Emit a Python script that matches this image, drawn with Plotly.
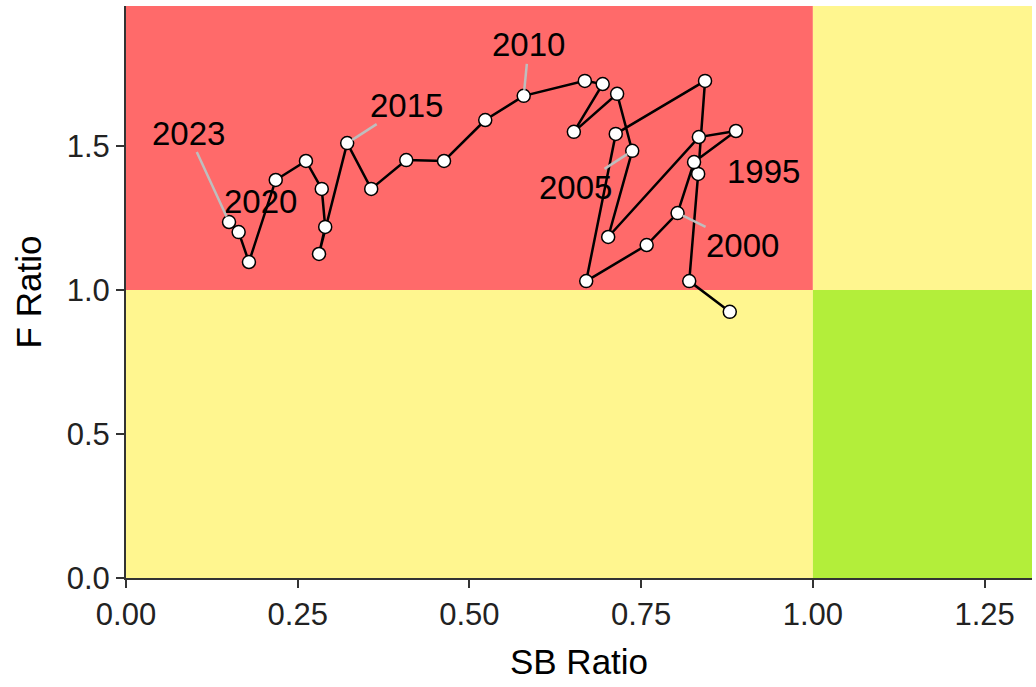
import plotly.graph_objects as go

# ---- data ----
years = list(range(1993, 2024))
sb_ratio = [0.879, 0.820, 0.833, 0.843, 0.713, 0.670, 0.758, 0.803, 0.827, 0.888,
            0.834, 0.702, 0.737, 0.715, 0.652, 0.694, 0.668, 0.579, 0.523, 0.463,
            0.408, 0.357, 0.322, 0.281, 0.290, 0.285, 0.262, 0.218, 0.179, 0.164,
            0.150]
f_ratio = [0.924, 1.031, 1.403, 1.726, 1.542, 1.031, 1.156, 1.267, 1.444, 1.552,
           1.531, 1.184, 1.483, 1.681, 1.549, 1.715, 1.726, 1.674, 1.590, 1.448,
           1.451, 1.351, 1.510, 1.125, 1.219, 1.351, 1.448, 1.382, 1.097, 1.201,
           1.236]
label_years = [1995, 2000, 2005, 2010, 2015, 2020, 2023]
x_ticks = [0.0, 0.25, 0.5, 0.75, 1.0, 1.25]
y_ticks = [0.0, 0.5, 1.0, 1.5]
x_max = 1.319
y_max = 1.986

# ---- styles ----
RED = "#FF6A6A"
YELLOW = "#FFF68F"
GREEN = "#B3EE3A"
FONT = "Liberation Sans, Arial, sans-serif"

# label placement (pixel offsets of text centre from point; None = no leader)
label_style = {
    1995: dict(dx=65, dy=-2, leader=False),
    2000: dict(dx=65, dy=32, leader=True),
    2005: dict(dx=-57, dy=37, leader=True),
    2010: dict(dx=5, dy=-51, leader=True),
    2015: dict(dx=59, dy=-38, leader=True),
    2020: dict(dx=-15, dy=22, leader=False),
    2023: dict(dx=-41, dy=-89, leader=True),
}

fig = go.Figure()

# zones
zones = [
    (0, 1, 1, y_max, RED),
    (1, x_max, 1, y_max, YELLOW),
    (0, 1, 0, 1, YELLOW),
    (1, x_max, 0, 1, GREEN),
]
for x0, x1, y0, y1, c in zones:
    fig.add_shape(type="rect", xref="x", yref="y", x0=x0, x1=x1, y0=y0, y1=y1,
                  fillcolor=c, line_width=0, layer="below")

fig.add_trace(go.Scatter(
    x=sb_ratio, y=f_ratio, mode="lines+markers",
    line=dict(color="black", width=2.5),
    marker=dict(size=13, color="white", line=dict(color="black", width=1.5)),
    hoverinfo="skip", showlegend=False, cliponaxis=False,
))

for yr in label_years:
    i = years.index(yr)
    st = label_style[yr]
    if st["leader"]:
        fig.add_annotation(x=sb_ratio[i], y=f_ratio[i], text=str(yr),
                           showarrow=True, arrowhead=0, arrowwidth=2.5,
                           arrowcolor="#BEBEBE", ax=st["dx"], ay=st["dy"],
                           standoff=6, borderpad=0,
                           font=dict(family=FONT, size=33, color="black"))
    else:
        fig.add_annotation(x=sb_ratio[i], y=f_ratio[i], text=str(yr),
                           showarrow=False, xshift=st["dx"], yshift=-st["dy"],
                           font=dict(family=FONT, size=33, color="black"))

axis_common = dict(
    showgrid=False, zeroline=False, showline=True, linecolor="#333333",
    linewidth=2, ticks="outside", ticklen=8, tickwidth=2, tickcolor="#333333",
    tickfont=dict(family=FONT, size=31, color="#222222"),
    title_font=dict(family=FONT, size=35, color="black"),
)

fig.update_xaxes(range=[0, x_max], tickvals=x_ticks, tickformat=".2f",
                 title_text="SB Ratio", title_standoff=18, **axis_common)
fig.update_yaxes(range=[0, y_max], tickvals=y_ticks, tickformat=".1f",
                 title_text="F Ratio", title_standoff=14, **axis_common)

fig.update_layout(
    width=1036, height=687,
    margin=dict(l=126, r=4, t=6, b=109),
    paper_bgcolor="white", plot_bgcolor="white",
    font=dict(family=FONT),
)

fig.write_html("out.html")
